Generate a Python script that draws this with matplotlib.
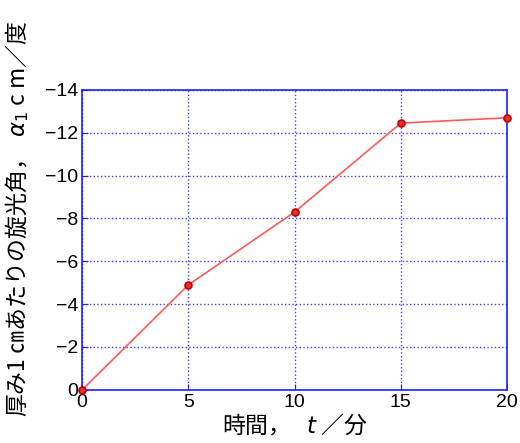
import matplotlib
matplotlib.use("Agg")
import matplotlib.pyplot as plt

# 時間 (分) と 旋光角 (度)
t_min = [0, 5, 10, 15, 20]
alpha = [0, -4.9, -8.3, -12.45, -12.7]
x_ticks = [0, 5, 10, 15, 20]
y_ticks = [0, -2, -4, -6, -8, -10, -12, -14]

plt.rcParams['font.family'] = ['Noto Sans CJK JP', 'DejaVu Sans']
plt.rcParams['mathtext.fontset'] = 'dejavusans'

fig = plt.figure(figsize=(5.2, 4.43), dpi=100)
ax = fig.add_axes([0.158, 0.12, 0.817, 0.677])

ax.plot(t_min, alpha, '-', color='#ff5a5a', lw=1.2, zorder=3)
ax.plot(t_min, alpha, 'o', ms=5, mfc='#e83030', mec='#c00000', mew=1.2, zorder=4, clip_on=False)

ax.set_xlim(0, 20)
ax.set_ylim(0, -14)
ax.set_xticks(x_ticks)
ax.set_yticks(y_ticks)
ax.set_xticklabels([str(v) for v in x_ticks], family='Liberation Sans', fontsize=14)
ax.set_yticklabels([str(v).replace('-', '\u2212') for v in y_ticks], family='Liberation Sans', fontsize=14)

ax.grid(True, color='#4040ff', ls=':', lw=1.0)
for s in ax.spines.values():
    s.set_color('#2020ff')
    s.set_linewidth(1.2)
ax.tick_params(direction='in', color='#2020ff', length=4, pad=3)

ax.set_xlabel('時間，   $t$ ／分', fontsize=16.5)
ax.set_ylabel('厚み1 ㎝あたりの旋光角，  $\\alpha_{1}$ c m／度', fontsize=16.5)
ax.yaxis.set_label_coords(-0.12, 0.57)
ax.xaxis.set_label_coords(0.5, -0.075)

fig.savefig('out.png', dpi=100)
